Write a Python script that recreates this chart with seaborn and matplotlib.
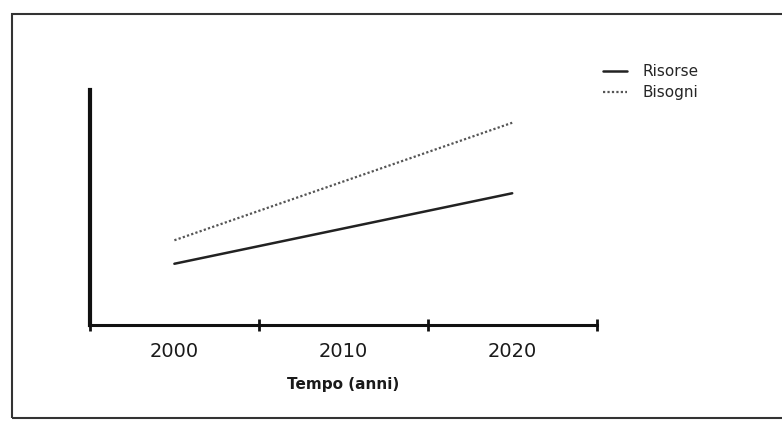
import pandas as pd
import seaborn as sns
import matplotlib.pyplot as plt
from matplotlib.patches import Rectangle

# data (arbitrary units, no y scale shown)
years = [2000, 2020]
risorse = [26, 56]
bisogni = [36, 86]
tick_labels = ['2000', '2010', '2020']
label_years = [2000, 2010, 2020]
grid_years = [1995, 2005, 2015, 2025]

df = pd.DataFrame({
    'anno': years * 2,
    'valore': risorse + bisogni,
    'serie': ['Risorse'] * len(years) + ['Bisogni'] * len(years),
})

sns.set_style('white')
plt.rcParams['font.family'] = ['DejaVu Sans']

fig = plt.figure(figsize=(7.82, 4.32), dpi=100)
ax = fig.add_axes([0.115, 0.248, 0.648, 0.544])

sns.lineplot(data=df[df.serie == 'Risorse'], x='anno', y='valore', ax=ax,
             color='#222222', linewidth=1.8, label='Risorse')
sns.lineplot(data=df[df.serie == 'Bisogni'], x='anno', y='valore', ax=ax,
             color='#555555', linewidth=1.6, linestyle=(0, (1, 1)), label='Bisogni')

ax.set_xlim(1995, 2025)
ax.set_ylim(0, 100)

# axes: thick left and bottom spines only
for side in ['top', 'right']:
    ax.spines[side].set_visible(False)
ax.spines['left'].set_linewidth(3)
ax.spines['bottom'].set_linewidth(2.2)
ax.spines['left'].set_color('#111111')
ax.spines['bottom'].set_color('#111111')

# "+" marks on the axis at the interval borders, labels centred in between
ax.set_xticks(grid_years)
ax.set_xticklabels([])
ax.tick_params(axis='x', which='major', direction='inout', length=9, width=2,
               color='#111111', bottom=True)
ax.set_xticks(label_years, minor=True)
ax.set_xticklabels(tick_labels, minor=True, fontsize=14, color='#1a1a1a')
ax.tick_params(axis='x', which='minor', length=0, pad=12)
ax.set_yticks([])

ax.set_xlabel('Tempo (anni)', fontsize=11, fontweight='bold', labelpad=12,
              color='#1a1a1a')
ax.set_ylabel('')

ax.legend(loc='upper left', bbox_to_anchor=(0.771, 0.852), bbox_transform=fig.transFigure,
          frameon=False, fontsize=11, handlelength=1.57, handletextpad=1.05,
          labelspacing=0.42, borderaxespad=0, borderpad=0)

# scanned frame around the figure
fig.patches.append(Rectangle((0.015, 0.032), 1.0, 0.936, transform=fig.transFigure,
                             fill=False, edgecolor='#333333', linewidth=1.5))

fig.savefig('out.png', dpi=100)
